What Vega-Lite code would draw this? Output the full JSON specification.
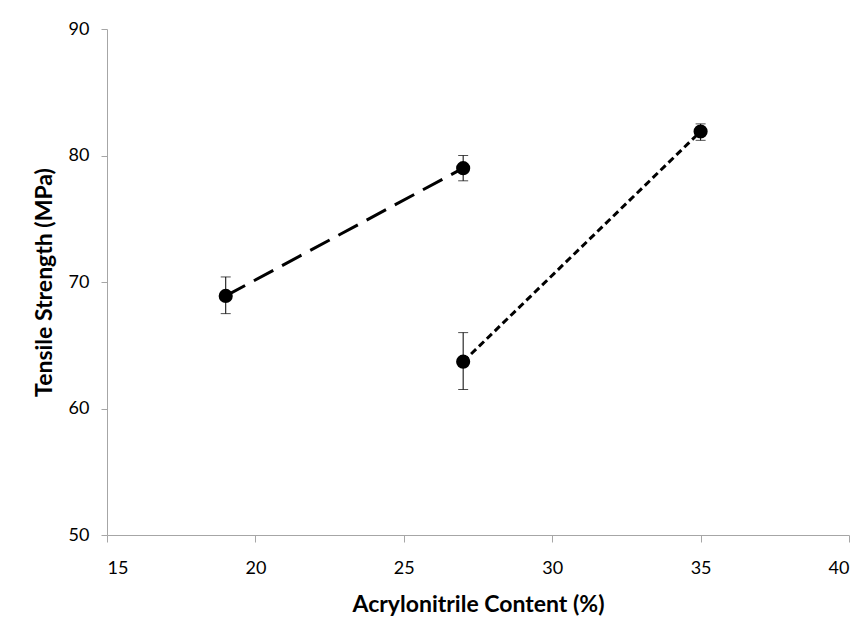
{
  "$schema": "https://vega.github.io/schema/vega-lite/v6.json",
  "width": 742,
  "height": 506,
  "autosize": {"type": "none"},
  "padding": {"left": 107, "top": 29, "right": 16, "bottom": 99},
  "background": "white",
  "config": {
    "view": {"stroke": null},
    "font": "Lato",
    "axis": {
      "grid": false,
      "domainColor": "#a6a6a6",
      "tickColor": "#a6a6a6",
      "domainWidth": 1,
      "tickWidth": 1,
      "labelFont": "Lato",
      "labelFontSize": 18,
      "labelColor": "#000000",
      "titleFont": "Lato",
      "titleFontSize": 23,
      "titleFontWeight": "bold",
      "titleColor": "#000000"
    }
  },
  "data": {
    "values": [
      {"series": "A", "x": 19, "y": 68.9, "lo": 67.5, "hi": 70.4},
      {"series": "A", "x": 27, "y": 79.0, "lo": 78.0, "hi": 80.0},
      {"series": "B", "x": 27, "y": 63.7, "lo": 61.5, "hi": 66.0},
      {"series": "B", "x": 35, "y": 81.9, "lo": 81.2, "hi": 82.5}
    ]
  },
  "layer": [
    {
      "transform": [{"filter": "datum.series === 'A'"}],
      "mark": {"type": "line", "color": "black", "strokeWidth": 3, "strokeDash": [22, 10]},
      "encoding": {
        "x": {"field": "x", "type": "quantitative", "scale": {"domain": [15, 40], "padding": 0, "nice": false, "zero": false},
          "axis": {"title": "Acrylonitrile Content (%)", "values": [15, 20, 25, 30, 35, 40], "tickSize": 7, "labelPadding": 17, "titlePadding": 16}},
        "y": {"field": "y", "type": "quantitative", "scale": {"domain": [50, 90], "padding": 0, "nice": false, "zero": false},
          "axis": {"title": "Tensile Strength (MPa)", "values": [50, 60, 70, 80, 90], "tickSize": 6, "labelPadding": 12, "titlePadding": 12}}
      }
    },
    {
      "transform": [{"filter": "datum.series === 'B'"}],
      "mark": {"type": "line", "color": "black", "strokeWidth": 3, "strokeDash": [7, 4]},
      "encoding": {
        "x": {"field": "x", "type": "quantitative"},
        "y": {"field": "y", "type": "quantitative"}
      }
    },
    {
      "mark": {"type": "rule", "color": "black", "strokeWidth": 1},
      "encoding": {
        "x": {"field": "x", "type": "quantitative"},
        "y": {"field": "lo", "type": "quantitative"},
        "y2": {"field": "hi"}
      }
    },
    {
      "mark": {"type": "tick", "color": "black", "orient": "horizontal", "size": 10, "thickness": 1},
      "encoding": {
        "x": {"field": "x", "type": "quantitative"},
        "y": {"field": "lo", "type": "quantitative"}
      }
    },
    {
      "mark": {"type": "tick", "color": "black", "orient": "horizontal", "size": 10, "thickness": 1},
      "encoding": {
        "x": {"field": "x", "type": "quantitative"},
        "y": {"field": "hi", "type": "quantitative"}
      }
    },
    {
      "mark": {"type": "point", "shape": "circle", "filled": true, "color": "black", "opacity": 1, "size": 200},
      "encoding": {
        "x": {"field": "x", "type": "quantitative"},
        "y": {"field": "y", "type": "quantitative"}
      }
    }
  ]
}
